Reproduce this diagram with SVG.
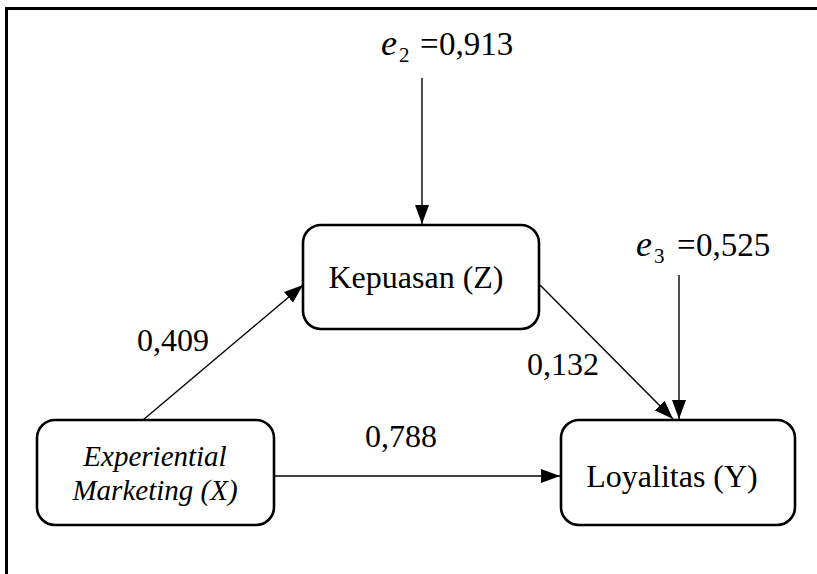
<svg xmlns="http://www.w3.org/2000/svg" width="817" height="574" viewBox="0 0 817 574">
<style>
.box{fill:#fff;stroke:#000;stroke-width:2.6}
.ln{stroke:#000;stroke-width:1.4;fill:none}
text{font-family:'Liberation Serif','Times New Roman',serif;fill:#000}
.t{font-size:32px}
.tx{font-size:29px;font-style:italic}
.e{font-size:36px;font-style:italic}
.sub{font-size:21px}
.v{font-size:33px}
</style>
<defs>
<marker id="ah" markerUnits="userSpaceOnUse" markerWidth="20" markerHeight="14" refX="19" refY="7" orient="auto">
<path d="M0,0 L19,7 L0,14 z" fill="#000"/>
</marker>
</defs>
<rect width="817" height="574" fill="#fff"/>
<g id="frame">
<line x1="5" y1="8.5" x2="817" y2="8.5" stroke="#000" stroke-width="3"/>
<line x1="6.5" y1="7" x2="6.5" y2="574" stroke="#000" stroke-width="3"/>
</g>
<g id="connectors">
<line class="ln" x1="422" y1="78" x2="422" y2="224" marker-end="url(#ah)"/>
<line class="ln" x1="679" y1="275" x2="679" y2="419" marker-end="url(#ah)"/>
<line class="ln" x1="143" y1="420" x2="303" y2="285" marker-end="url(#ah)"/>
<line class="ln" x1="540" y1="285" x2="673" y2="419" marker-end="url(#ah)"/>
<line class="ln" x1="274" y1="476" x2="560" y2="476" marker-end="url(#ah)"/>
</g>
<g id="node-z">
<rect class="box" x="303" y="225" width="236" height="104" rx="18"/>
<text class="t" x="416" y="288" text-anchor="middle">Kepuasan (Z)</text>
</g>
<g id="node-x">
<rect class="box" x="37" y="420" width="237" height="105" rx="18"/>
<text class="tx" x="155" y="466" text-anchor="middle">Experiential</text>
<text class="tx" x="155" y="500" text-anchor="middle">Marketing (X)</text>
</g>
<g id="node-y">
<rect class="box" x="561" y="420" width="234" height="105" rx="18"/>
<text class="t" x="672" y="487" text-anchor="middle">Loyalitas (Y)</text>
</g>
<g id="labels">
<text class="t" x="137" y="351">0,409</text>
<text class="t" x="527" y="375">0,132</text>
<text class="t" x="365" y="447">0,788</text>
<g id="e2">
<text class="e" x="381" y="55">e</text>
<text class="sub" x="399" y="62">2</text>
<text class="v" x="420" y="55">=</text>
<text class="v" x="439" y="55">0,913</text>
</g>
<g id="e3">
<text class="e" x="636" y="256">e</text>
<text class="sub" x="654" y="263">3</text>
<text class="v" x="677" y="256">=</text>
<text class="v" x="696" y="256">0,525</text>
</g>
</g>
</svg>
